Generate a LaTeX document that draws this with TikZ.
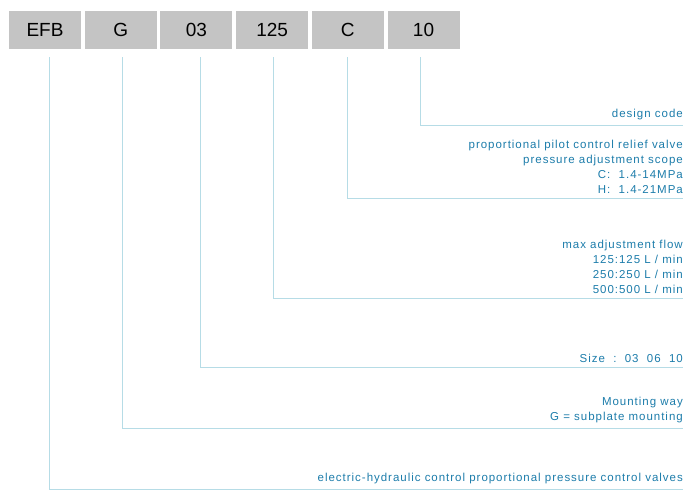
\documentclass[tikz,border=0pt]{standalone}
\usepackage{fontspec}
\setmainfont{Liberation Sans}
\newfontfamily\notefont[LetterSpace=8.5]{Liberation Sans}
\usetikzlibrary{positioning}
\definecolor{BoxGrey}{RGB}{196,196,196}
\definecolor{LeadBlue}{RGB}{182,220,230}
\definecolor{NoteBlue}{RGB}{28,124,170}

\begin{document}
\begin{tikzpicture}[
    x=1pt, y=-1pt,
    node distance=3.3pt,
    codebox/.style={
        fill=BoxGrey,
        minimum width=72pt,
        minimum height=38pt,
        inner sep=0pt,
        font=\fontsize{19}{19}\selectfont
    },
    lead/.style={
        draw=LeadBlue,
        line width=1pt
    },
    note/.style={
        anchor=south east,
        align=right,
        inner sep=0pt,
        text=NoteBlue,
        font=\notefont\fontsize{11.5}{15}\selectfont
    }
]
\useasboundingbox (0,0) rectangle (700,503);

\node[codebox] (efb) at (45,30) {EFB};
\node[codebox, right=of efb] (mount) {G};
\node[codebox, right=of mount] (size) {03};
\node[codebox, right=of size] (flow) {125};
\node[codebox, right=of flow] (press) {C};
\node[codebox, right=of press] (code) {10};

\coordinate (codeend) at (683,125);
\coordinate (pressend) at (683,198);
\coordinate (flowend) at (683,298);
\coordinate (sizeend) at (683,367);
\coordinate (mountend) at (683,428);
\coordinate (efbend) at (683,489);

\draw[lead] ([xshift=-3pt, yshift=-8pt]code.south) |- (codeend);
\draw[lead] ([xshift=-0.5pt, yshift=-8pt]press.south) |- (pressend);
\draw[lead] ([xshift=1pt, yshift=-8pt]flow.south) |- (flowend);
\draw[lead] ([xshift=4pt, yshift=-8pt]size.south) |- (sizeend);
\draw[lead] ([xshift=1.5pt, yshift=-8pt]mount.south) |- (mountend);
\draw[lead] ([xshift=4pt, yshift=-8pt]efb.south) |- (efbend);

\node[note] (codenote) at ([yshift=4.5pt]codeend) {design code};
\node[note] (pressnote) at ([yshift=4.5pt]pressend)
{proportional pilot control relief valve\\pressure adjustment scope\\C:\ \ 1.4-14MPa\\H:\ \ 1.4-21MPa};
\node[note] (flownote) at ([yshift=4.5pt]flowend)
{max adjustment flow\\125:125 L / min\\250:250 L / min\\500:500 L / min};
\node[note] (sizenote) at ([yshift=4.5pt]sizeend) {Size\ \ :\ \ 03\ \ 06\ \ 10};
\node[note] (mountnote) at ([yshift=4.5pt]mountend)
{Mounting way\\G = subplate mounting};
\node[note] (efbnote) at ([yshift=4.5pt]efbend)
{electric-hydraulic control proportional pressure control valves};

\end{tikzpicture}
\end{document}
